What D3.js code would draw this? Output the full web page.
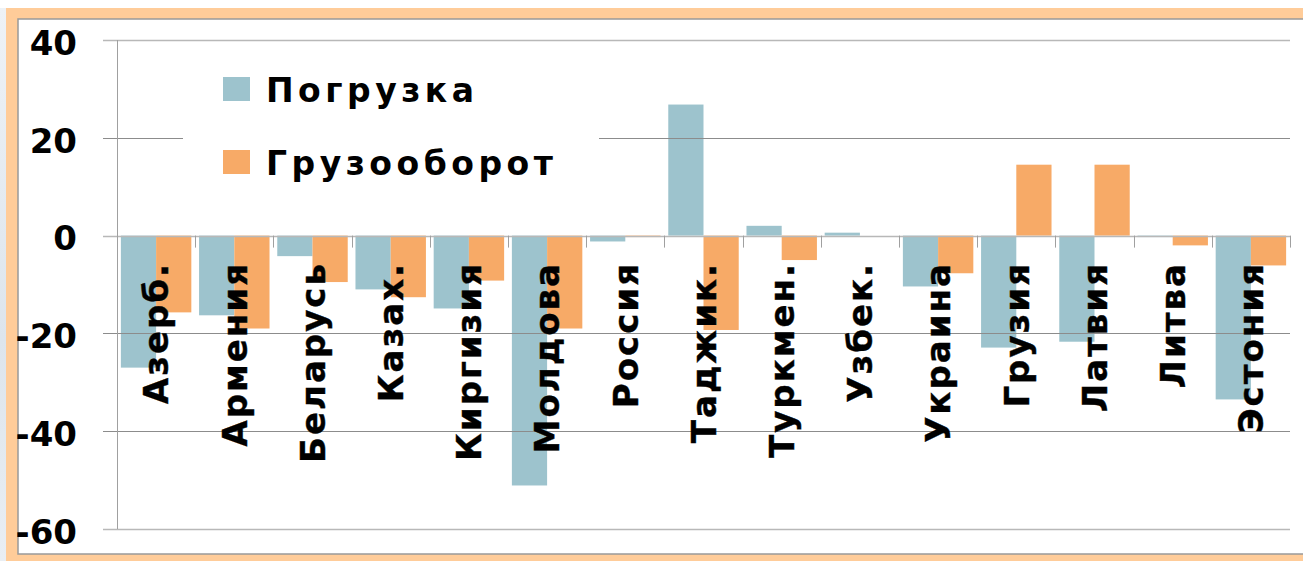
<!DOCTYPE html>
<html>
<head>
<meta charset="utf-8">
<script src="https://cdn.jsdelivr.net/npm/d3@7"></script>
<style>
  html, body { margin: 0; padding: 0; background: #fff; }
  svg { display: block; }
  text { font-family: "DejaVu Sans", Verdana, sans-serif; font-weight: bold; fill: #000; }
</style>
</head>
<body>
<svg id="chart" width="1303" height="561"></svg>
<script>
// ----------------------
// data
// ----------------------
const countries = ["Азерб.", "Армения", "Беларусь", "Казах.", "Киргизия", "Молдова", "Россия",
  "Таджик.", "Туркмен.", "Узбек.", "Украина", "Грузия", "Латвия", "Литва", "Эстония"];
const seriesNames = ["Погрузка", "Грузооборот"];
const loading = [-27, -16.3, -4.2, -11, -14.9, -51.1, -1.2, 26.8, 2.0, 0.6, -10.4, -22.9, -21.7, -0.3, -33.5];
const turnover = [-15.7, -19, -9.5, -12.6, -9.2, -19, -0.3, -19.3, -5.0, 0, -7.7, 14.5, 14.5, -2.0, -6.1];
const yTicks = [40, 20, 0, -20, -40, -60];
const colors = ["#9DC3CD", "#F7AA67"];

const rows = countries.map((c, i) => ({ country: c, values: [loading[i], turnover[i]] }));

// ----------------------
// layout
// ----------------------
const svg = d3.select("#chart");
const plot = { left: 117, right: 1290, top: 40, bottom: 529 };

// background + frame
const defs = svg.append("defs");
const grad = defs.append("linearGradient").attr("id", "bgGrad")
  .attr("x1", 0).attr("y1", 0).attr("x2", 0).attr("y2", 1);
grad.append("stop").attr("offset", "0%").attr("stop-color", "#eef2f6");
grad.append("stop").attr("offset", "60%").attr("stop-color", "#dde5ec");
grad.append("stop").attr("offset", "100%").attr("stop-color", "#e9eef3");
svg.append("rect").attr("x", 0).attr("y", 8).attr("width", 6).attr("height", 553).attr("fill", "url(#bgGrad)");
svg.append("rect").attr("x", 6).attr("y", 8).attr("width", 1297).attr("height", 553).attr("fill", "#FFCC99");
svg.append("rect").attr("x", 18).attr("y", 19).attr("width", 1295).attr("height", 535)
  .attr("fill", "#fff").attr("stroke", "#999").attr("stroke-width", 1.5);

// scales
const x = d3.scaleBand().domain(countries).range([plot.left, plot.right]);
const xSub = d3.scaleBand().domain([0, 1]).range([0, x.bandwidth()]).paddingOuter(0.11);
const y = d3.scaleLinear().domain([-60, 40]).range([plot.bottom, plot.top]);

// bars
const groups = svg.append("g").selectAll("g")
  .data(rows).join("g")
  .attr("transform", d => `translate(${x(d.country)},0)`);

groups.selectAll("rect")
  .data(d => d.values.map((v, k) => ({ v, k })))
  .join("rect")
  .attr("x", d => xSub(d.k))
  .attr("width", xSub.bandwidth())
  .attr("y", d => y(Math.max(0, d.v)))
  .attr("height", d => Math.abs(y(d.v) - y(0)))
  .attr("fill", d => colors[d.k]);

// gridlines (drawn over bars as in the source)
svg.append("g").selectAll("line")
  .data(yTicks).join("line")
  .attr("x1", 103).attr("x2", plot.right)
  .attr("y1", d => Math.round(y(d)) + 0.5).attr("y2", d => Math.round(y(d)) + 0.5)
  .attr("stroke", d => (d === 40 || d === -60 || d === 0) ? "#b8b8b8" : "#8c8c8c")
  .attr("stroke-width", d => (d === 40 || d === -60 || d === 0) ? 1.5 : 1);

// y axis line
svg.append("line")
  .attr("x1", plot.left + 0.5).attr("x2", plot.left + 0.5)
  .attr("y1", y(40)).attr("y2", y(-60))
  .attr("stroke", "#a0a0a0").attr("stroke-width", 1);

// y tick labels
const yAxis = d3.axisLeft(y).tickValues(yTicks).tickSize(0).tickPadding(40)
  .tickFormat(d => String(d));
const yAxisG = svg.append("g").attr("transform", `translate(${plot.left},0)`).call(yAxis);
yAxisG.select(".domain").remove();
yAxisG.selectAll("text")
  .attr("dy", "0.42em")
  .style("font-family", "'DejaVu Sans', Verdana, sans-serif")
  .style("font-weight", "bold")
  .style("font-size", "34px")
  .attr("fill", "#000");

// x category boundary ticks at zero line
const bounds = countries.map(c => x(c)).concat([plot.right]);
svg.append("g").selectAll("line")
  .data(bounds).join("line")
  .attr("x1", d => Math.round(d) + 0.5).attr("x2", d => Math.round(d) + 0.5)
  .attr("y1", y(0)).attr("y2", y(0) + 12)
  .attr("stroke", "#a0a0a0").attr("stroke-width", 1);

// category labels (rotated)
svg.append("g").selectAll("text")
  .data(countries).join("text")
  .attr("transform", d => `translate(${x(d) + x.bandwidth() / 2},262) rotate(-90)`)
  .attr("text-anchor", "end")
  .attr("dy", "0.36em")
  .style("font-size", "34px")
  .style("letter-spacing", "2px")
  .style("stroke", "#000")
  .style("stroke-width", "0.4px")
  .text(d => d);

// legend
const legend = svg.append("g");
legend.append("rect").attr("x", 183).attr("y", 56).attr("width", 416).attr("height", 140).attr("fill", "#fff");
const legendY = [77, 150];
seriesNames.forEach((name, k) => {
  legend.append("rect")
    .attr("x", 223).attr("y", legendY[k]).attr("width", 27).attr("height", 24)
    .attr("fill", colors[k]);
  legend.append("text")
    .attr("x", 266).attr("y", legendY[k] + 25)
    .style("font-size", "33px")
    .style("letter-spacing", "4.5px")
    .text(name);
});
</script>
</body>
</html>
